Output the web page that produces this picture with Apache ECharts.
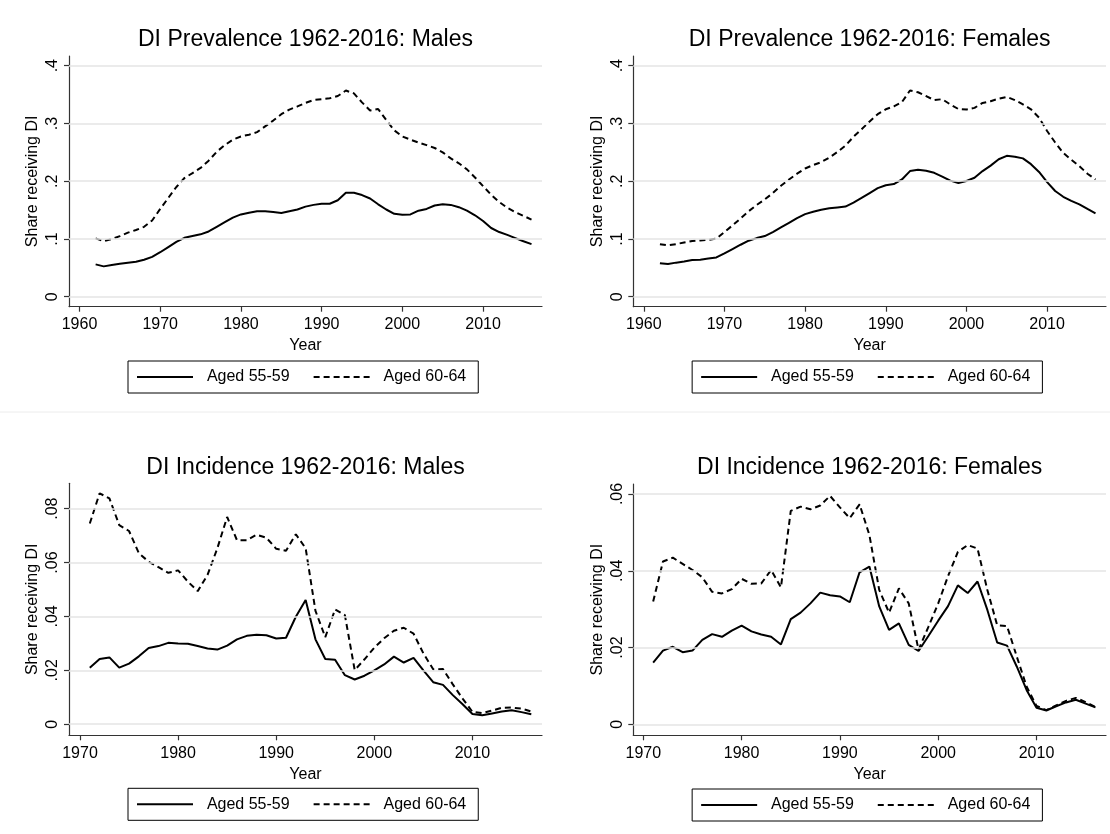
<!DOCTYPE html>
<html><head><meta charset="utf-8">
<script src="https://cdn.jsdelivr.net/npm/echarts@6/dist/echarts.min.js"></script>
<style>html,body{margin:0;padding:0;background:#fff}#c{width:1110px;height:834px}</style>
</head><body><div id="c"></div>
<script>
// ---- data ----
const prevYears = [1962,1963,1964,1965,1966,1967,1968,1969,1970,1971,1972,1973,1974,1975,1976,1977,1978,1979,1980,1981,1982,1983,1984,1985,1986,1987,1988,1989,1990,1991,1992,1993,1994,1995,1996,1997,1998,1999,2000,2001,2002,2003,2004,2005,2006,2007,2008,2009,2010,2011,2012,2013,2014,2015,2016];
const incYears = [1971,1972,1973,1974,1975,1976,1977,1978,1979,1980,1981,1982,1983,1984,1985,1986,1987,1988,1989,1990,1991,1992,1993,1994,1995,1996,1997,1998,1999,2000,2001,2002,2003,2004,2005,2006,2007,2008,2009,2010,2011,2012,2013,2014,2015,2016];

const malePrev5559 = [.056,.0525,.055,.057,.059,.0605,.064,.069,.077,.086,.095,.102,.105,.108,.113,.121,.129,.137,.1425,.1455,.148,.148,.1465,.145,.148,.151,.156,.159,.161,.161,.167,.180,.180,.176,.170,.160,.151,.1435,.142,.1425,.149,.152,.158,.160,.159,.155,.149,.141,.131,.119,.112,.107,.1015,.096,.091];
const malePrev6064 = [.101,.096,.100,.105,.111,.1155,.121,.132,.152,.171,.190,.2055,.214,.223,.2355,.251,.2625,.272,.2775,.2805,.285,.295,.305,.316,.324,.3295,.3355,.3405,.342,.3435,.3475,.357,.352,.3365,.3225,.325,.306,.288,.2775,.272,.267,.2625,.2575,.250,.2395,.231,.2205,.2065,.1915,.1765,.164,.154,.1465,.140,.1335];
const femPrev5559 = [.058,.0565,.059,.061,.0635,.064,.066,.068,.075,.0825,.090,.097,.1015,.105,.112,.120,.128,.136,.143,.147,.1505,.153,.1545,.156,.163,.171,.1795,.188,.193,.195,.203,.2175,.220,.218,.2145,.208,.201,.197,.2005,.206,.2175,.227,.238,.244,.2425,.2395,.2295,.216,.1985,.183,.173,.166,.160,.152,.1445];
const femPrev6064 = [.091,.089,.091,.094,.0965,.0975,.0985,.1005,.112,.1235,.1355,.148,.159,.1685,.1795,.192,.203,.213,.222,.228,.233,.241,.2505,.2615,.277,.290,.3035,.316,.3245,.3295,.337,.357,.354,.3475,.3405,.342,.333,.325,.324,.327,.3355,.3385,.343,.346,.3405,.333,.3245,.310,.287,.267,.249,.237,.226,.213,.203];
const maleInc5559 = [.0210,.0242,.0248,.0210,.0225,.0252,.0283,.0290,.0302,.0300,.0299,.0290,.0281,.0277,.0292,.0315,.0328,.0332,.0330,.0318,.0321,.0399,.0461,.0315,.0242,.0239,.0182,.0166,.0180,.0200,.0222,.0251,.0229,.0246,.0200,.0156,.0146,.0108,.0074,.0038,.0033,.0040,.0047,.0052,.0045,.0037];
const maleInc6064 = [.0745,.0857,.0838,.0739,.0717,.0635,.0603,.0583,.0562,.0571,.0529,.0494,.0554,.0653,.0769,.0683,.0683,.0703,.0692,.0651,.0644,.0705,.0653,.0421,.0323,.0426,.0405,.0201,.0241,.0284,.0319,.0347,.0358,.0336,.0263,.0204,.0205,.0148,.0095,.0046,.0041,.0051,.0061,.0062,.0058,.0047];
const femInc5559 = [.0161,.0192,.0202,.0188,.0192,.0220,.0235,.0228,.0244,.0257,.0242,.0234,.0228,.0208,.0274,.0291,.0315,.0343,.0336,.0333,.0318,.0396,.0411,.0307,.0246,.0263,.0207,.0191,.0230,.0270,.0308,.0362,.0342,.0372,.0298,.0213,.0205,.0150,.0089,.0043,.0036,.0047,.0057,.0064,.0054,.0044];
const femInc6064 = [.0320,.0424,.0434,.0418,.0402,.0383,.0345,.0341,.0352,.0379,.0366,.0367,.0402,.0357,.0556,.0567,.0560,.0570,.0595,.0565,.0537,.0573,.0493,.0350,.0291,.0354,.0315,.0194,.0254,.0315,.0386,.0449,.0467,.0458,.0350,.0258,.0256,.0176,.0098,.0048,.0037,.0049,.0061,.0069,.0058,.0045];

const seriesNames = ['Aged 55-59','Aged 60-64'];
const titles = ['DI Prevalence 1962-2016: Males','DI Prevalence 1962-2016: Females','DI Incidence 1962-2016: Males','DI Incidence 1962-2016: Females'];
const xTicksPrev = [1960,1970,1980,1990,2000,2010];
const xTicksInc = [1970,1980,1990,2000,2010];
const yTicksPrev = [0,0.1,0.2,0.3,0.4];
const yTickLabelsPrev = ['0','.1','.2','.3','.4'];
const yTicksIncM = [0,0.02,0.04,0.06,0.08];
const yTickLabelsIncM = ['0','.02','.04','.06','.08'];
const yTicksIncF = [0,0.02,0.04,0.06];
const yTickLabelsIncF = ['0','.02','.04','.06'];
const xTitle = 'Year';
const yTitle = 'Share receiving DI';

// ---- layout ----
const FONT = '"Liberation Sans", Arial, Helvetica, sans-serif';
const panels = [
  {grid:{left:69,top:56,width:473,height:250.7}, xmin:1958.7, xmax:2017.3, ymin:-0.0173, ymax:0.4168,
   years:prevYears, s1:malePrev5559, s2:malePrev6064, xt:xTicksPrev, yt:yTicksPrev, yl:yTickLabelsPrev, title:titles[0]},
  {grid:{left:633.3,top:56,width:472.7,height:250.7}, xmin:1958.7, xmax:2017.3, ymin:-0.0173, ymax:0.4168,
   years:prevYears, s1:femPrev5559, s2:femPrev6064, xt:xTicksPrev, yt:yTicksPrev, yl:yTickLabelsPrev, title:titles[1]},
  {grid:{left:69,top:483.3,width:473,height:252}, xmin:1968.88, xmax:2017.09, ymin:-0.0041, ymax:0.0894,
   years:incYears, s1:maleInc5559, s2:maleInc6064, xt:xTicksInc, yt:yTicksIncM, yl:yTickLabelsIncM, title:titles[2]},
  {grid:{left:633.3,top:484,width:472.7,height:251.3}, xmin:1968.98, xmax:2017.07, ymin:-0.00286, ymax:0.0626,
   years:incYears, s1:femInc5559, s2:femInc6064, xt:xTicksInc, yt:yTicksIncF, yl:yTickLabelsIncF, title:titles[3]}
];

const axisColor = '#333';
const option = {animation:false, backgroundColor:'#fff', grid:[], xAxis:[], yAxis:[], series:[], legend:[], graphic:[]};

panels.forEach((p,i)=>{
  option.grid.push(Object.assign({containLabel:false}, p.grid));
  option.xAxis.push({
    gridIndex:i, type:'value', min:p.xmin, max:p.xmax,
    axisLine:{show:true, onZero:false, lineStyle:{color:axisColor,width:1.2}},
    axisTick:{show:true, length:5, customValues:p.xt, lineStyle:{color:axisColor,width:1.2}},
    axisLabel:{customValues:p.xt, fontSize:16, color:'#000', fontFamily:FONT, margin:10,
      formatter:(v)=>String(Math.round(v))},
    splitLine:{show:false},
    name:xTitle, nameLocation:'middle', nameGap:31,
    nameTextStyle:{fontSize:16, color:'#000', fontFamily:FONT}
  });
  const yt = p.yt, yl = p.yl;
  option.yAxis.push({
    gridIndex:i, type:'value', min:p.ymin, max:p.ymax,
    axisLine:{show:true, onZero:false, lineStyle:{color:axisColor,width:1.2}},
    axisTick:{show:true, length:5, customValues:yt, lineStyle:{color:axisColor,width:1.2}},
    axisLabel:{customValues:yt, rotate:90, fontSize:16, color:'#000', fontFamily:FONT, margin:8,
      formatter:(v)=>{let b=0;yt.forEach((t,k)=>{if(Math.abs(t-v)<Math.abs(yt[b]-v))b=k;});return yl[b];}},
    splitLine:{show:false},
    name:yTitle, nameLocation:'middle', nameGap:28, nameRotate:90,
    nameTextStyle:{fontSize:16, color:'#000', fontFamily:FONT}
  });
  // gridlines
  option.series.push({
    type:'line', xAxisIndex:i, yAxisIndex:i, data:[], z:1, silent:true,
    markLine:{silent:true, symbol:'none', animation:false, label:{show:false},
      lineStyle:{color:'#e4e4e4', width:1.5, type:'solid'},
      data: yt.map(v=>({yAxis:v}))}
  });
  option.series.push({
    type:'line', name:seriesNames[0], xAxisIndex:i, yAxisIndex:i, z:3, symbol:'none',
    data:p.years.map((y,k)=>[y,p.s1[k]]),
    lineStyle:{color:'#000', width:2}, itemStyle:{color:'#000'}
  });
  option.series.push({
    type:'line', name:seriesNames[1], xAxisIndex:i, yAxisIndex:i, z:3, symbol:'none',
    data:p.years.map((y,k)=>[y,p.s2[k]]),
    lineStyle:{color:'#000', width:2, type:[6,4]}, itemStyle:{color:'#000'}
  });
  const cx = p.grid.left + p.grid.width/2;
  option.graphic.push({type:'text', x:cx, y:p.grid.top-16, silent:true,
    style:{text:p.title, align:'center', verticalAlign:'middle', font:'23px '+FONT, fill:'#000'}});
  option.legend.push({
    left: cx - 177.5, top: p.grid.top + 305,
    data:seriesNames, orient:'horizontal', selectedMode:false,
    itemWidth:56, itemHeight:14, itemGap:23,
    itemStyle:{opacity:0},
    lineStyle:{width:2},
    padding:[8,12,8,8], borderColor:'#000', borderWidth:1, borderRadius:0, backgroundColor:'#fff',
    textStyle:{fontSize:16, color:'#000', fontFamily:FONT},
    formatter:(n)=>'  '+n
  });
});
option.graphic.push({type:'line', shape:{x1:0,y1:412,x2:1110,y2:412}, silent:true, style:{stroke:'#ececec', lineWidth:1}});

const chart = echarts.init(document.getElementById('c'), null, {renderer:'canvas'});
chart.setOption(option);
</script></body></html>
